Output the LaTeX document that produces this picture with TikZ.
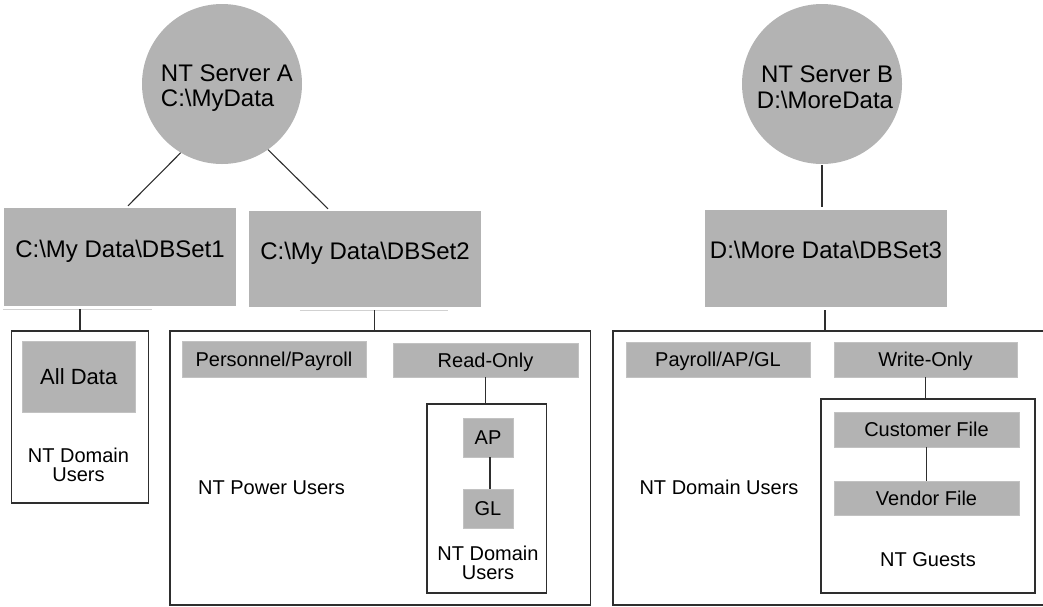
\documentclass[tikz,border=0pt]{standalone}
\usepackage{fontspec}
\setmainfont{Liberation Sans}
\definecolor{boxgray}{HTML}{B3B3B3}
\definecolor{linegray}{HTML}{2E2E2E}
\begin{document}
\begin{tikzpicture}[x=1pt,y=-1pt,
  server/.style={circle, fill=boxgray, minimum size=160pt, inner sep=0pt},
  bigtext/.style={font=\fontsize{24}{25.5}\selectfont, inner sep=0pt},
  dbset/.style={rectangle, fill=boxgray, inner sep=0pt, font=\fontsize{24}{25.5}\selectfont, text height=12pt, text depth=12pt},
  group/.style={rectangle, draw=linegray, line width=1.3pt, inner sep=0pt},
  item/.style={rectangle, fill=boxgray, draw=boxgray!80, line width=0.8pt, inner sep=0pt, font=\fontsize{20}{20}\selectfont, text height=14.3pt, text depth=0pt},
  lbl/.style={font=\fontsize{20}{19.5}\selectfont, align=center, inner sep=0pt},
  lblone/.style={font=\fontsize{20}{20}\selectfont, inner sep=0pt, text height=14.3pt, text depth=0pt},
  conn/.style={draw=linegray, line width=1.1pt},
  ghost/.style={draw=black!18, line width=1pt}]

\clip (0,0) rectangle (1043,606);

% servers
\node[server] (A) at (222,84) {};
\node[bigtext, align=left] (Atext) at (227,88) {NT Server A\\C:\textbackslash MyData};
\node[server] (B) at (822,84) {};
\node[bigtext, align=right] (Btext) at (825,87) {NT Server B\\D:\textbackslash MoreData};

% DB sets
\node[dbset, minimum width=232pt, minimum height=98pt] (d1) at (120,257) {C:\textbackslash My Data\textbackslash DBSet1};
\node[dbset, minimum width=232pt, minimum height=96pt] (d2) at (365,259) {C:\textbackslash My Data\textbackslash DBSet2};
\node[dbset, minimum width=242pt, minimum height=97pt] (d3) at (826,258.5) {D:\textbackslash More Data\textbackslash DBSet3};

\draw[ghost] ([xshift=-1pt,yshift=-3pt]d1.south west) -- ([xshift=-84pt,yshift=-3pt]d1.south east);
\draw[ghost] ([xshift=51pt,yshift=-3pt]d2.south west) -- ([xshift=-33pt,yshift=-3pt]d2.south east);

% group boxes
\node[group, minimum width=137pt, minimum height=172pt] (g1) at (80,417) {};
\node[group, minimum width=420.5pt, minimum height=274pt] (g2) at (380.25,468) {};
\node[group, minimum width=447pt, minimum height=274pt] (g3) at (836.5,468) {};
\node[group, minimum width=119.5pt, minimum height=189pt] (i2) at (486.75,498.5) {};
\node[group, minimum width=214pt, minimum height=194pt] (i3) at (928,496) {};

% items
\node[item, minimum width=113.5pt, minimum height=71pt, font=\fontsize{22}{22}\selectfont, text height=15.7pt] (alldata) at (78.75,376.5) {All Data};
\node[item, minimum width=184pt, minimum height=36pt] (pers) at (274,359) {Personnel/Payroll};
\node[item, minimum width=185pt, minimum height=34pt] (ro) at (485.5,360) {Read-Only};
\node[item, minimum width=50pt, minimum height=39pt] (ap) at (488,437.5) {AP};
\node[item, minimum width=50pt, minimum height=39pt] (gl) at (488,508.5) {GL};
\node[item, minimum width=184pt, minimum height=35pt] (pag) at (718,359.5) {Payroll/AP/GL};
\node[item, minimum width=183pt, minimum height=35pt] (wo) at (925.5,359.5) {Write-Only};
\node[item, minimum width=185pt, minimum height=35pt] (cf) at (926.5,429.5) {Customer File};
\node[item, minimum width=185pt, minimum height=34pt] (vf) at (926.5,498) {Vendor File};

% labels
\node[lbl] (u1) at (78.5,465) {NT Domain\\Users};
\node[lblone] (power) at (271.5,487) {NT Power Users};
\node[lbl] (u2) at (488,563) {NT Domain\\Users};
\node[lblone] (dom3) at (719,487) {NT Domain Users};
\node[lblone] (guests) at (928,559) {NT Guests};

% connectors
\draw[conn] (A.239) -- ([xshift=8pt,yshift=2pt]d1.north);
\draw[conn] (A.305) -- ([xshift=-37pt,yshift=2pt]d2.north);
\draw[conn] ([yshift=-1pt]B.south) -- ([yshift=3pt]B.south |- d3.north);
\draw[conn] ([yshift=-3pt]d1.south -| g1.north) -- (g1.north);
\draw[conn] ([xshift=-6pt,yshift=-3pt]g2.north |- d2.south) -- ([xshift=-6pt]g2.north);
\draw[conn] ([xshift=-1pt,yshift=-3pt]d3.south) -- ([xshift=-1pt]d3.south |- g3.north);
\draw[conn] (ro.south) -- (ro.south |- i2.north);
\draw[conn] ([xshift=2pt]ap.south) -- ([xshift=2pt]gl.north);
\draw[conn] (wo.south) -- (wo.south |- i3.north);
\draw[conn] (cf.south) -- (vf.north);
\end{tikzpicture}
\end{document}
